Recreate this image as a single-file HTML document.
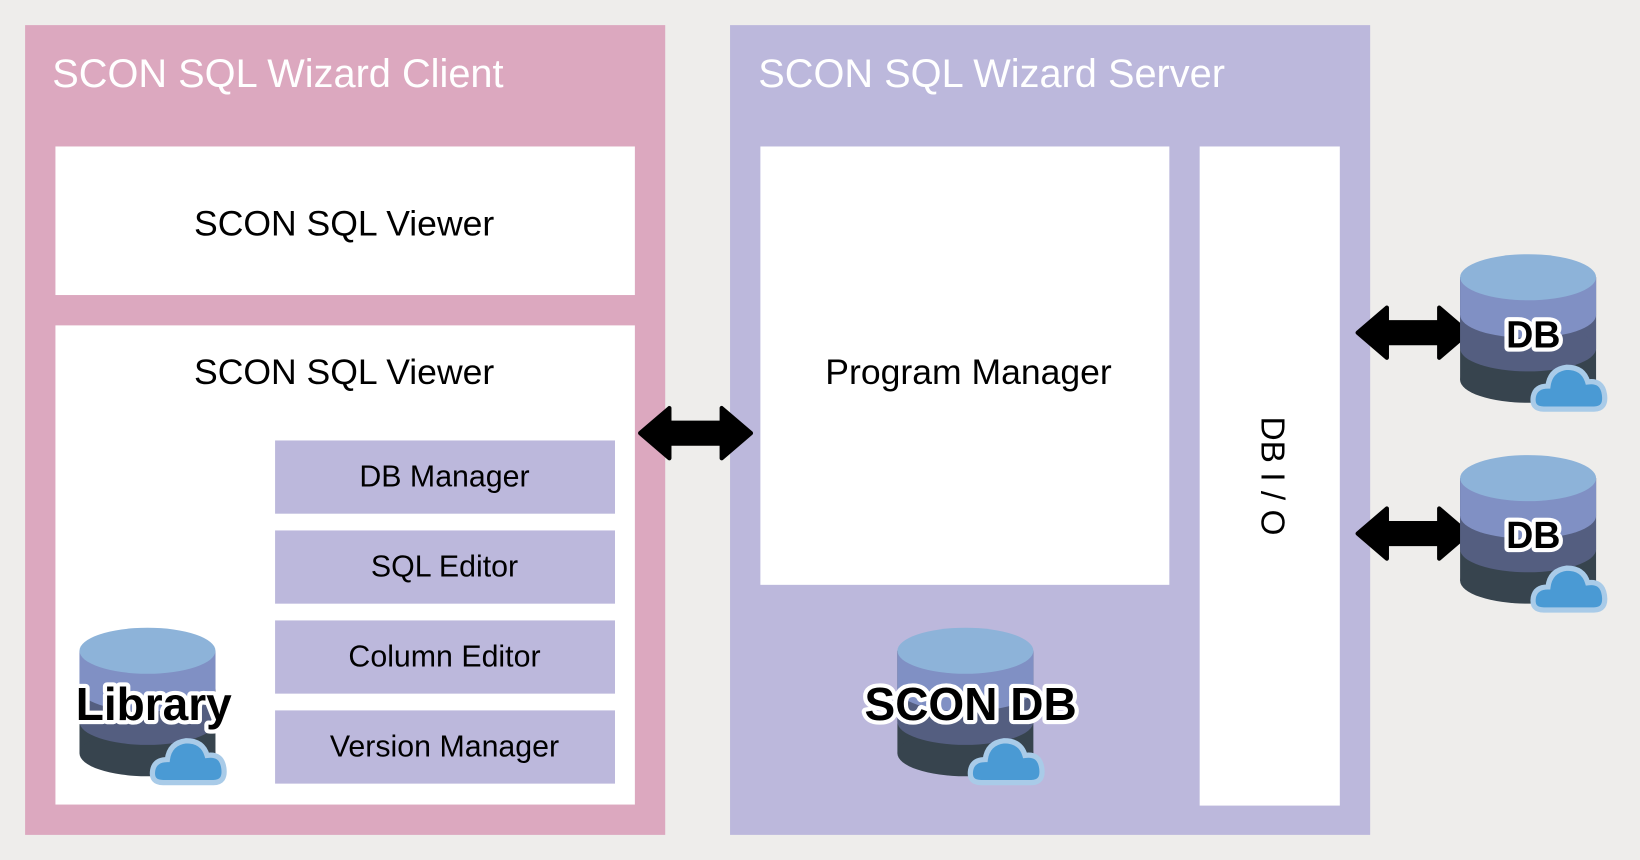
<!DOCTYPE html>
<html><head><style>html,body{margin:0;padding:0;background:#eeedeb}svg{display:block}</style></head>
<body>
<svg width="1640" height="860" viewBox="0 0 1568 822" preserveAspectRatio="none" xmlns="http://www.w3.org/2000/svg" font-family="Liberation Sans, DejaVu Sans, sans-serif">
<defs>
<g id="cyl">
<rect x="0" y="22" width="130" height="98" fill="#37444e"/><ellipse cx="65" cy="120" rx="65" ry="22" fill="#37444e"/>
<rect x="0" y="22" width="130" height="68" fill="#545e80"/><ellipse cx="65" cy="90" rx="65" ry="22" fill="#545e80"/>
<rect x="0" y="22" width="130" height="36" fill="#8090c4"/><ellipse cx="65" cy="58" rx="65" ry="22" fill="#8090c4"/>
<ellipse cx="65" cy="22" rx="65" ry="22" fill="#8db3d9"/>
<g transform="translate(72,98)">
<path d="M8 50 Q-4 50 -2 38 Q0 28 12 28 Q14 12 30 10 Q46 10 50 24 Q64 22 66 36 Q68 50 56 50 Z" fill="#4a9ad4" stroke="#a9cbe8" stroke-width="5"/>
</g>
</g>
<polygon id="arr" points="0,0 28,-24 28,-10 78,-10 78,-24 106,0 78,24 78,10 28,10 28,24" fill="#000" stroke="#000" stroke-width="4" stroke-linejoin="round"/>
</defs>
<rect width="1568" height="822" fill="#eeedeb"/>
<rect x="24" y="24" width="612" height="774" fill="#dca8bf"/>
<rect x="698" y="24" width="612" height="774" fill="#bcb8dc"/>
<text x="50" y="83" font-size="38" fill="#fff">SCON SQL Wizard Client</text>
<text x="725" y="83" font-size="38" fill="#fff">SCON SQL Wizard Server</text>
<rect x="53" y="140" width="554" height="142" fill="#fff"/>
<rect x="53" y="311" width="554" height="458" fill="#fff"/>
<text x="329" y="225" font-size="34" text-anchor="middle">SCON SQL Viewer</text>
<text x="329" y="367" font-size="34" text-anchor="middle">SCON SQL Viewer</text>
<g fill="#bcb8dc">
<rect x="263" y="421" width="325" height="70"/><rect x="263" y="507" width="325" height="70"/>
<rect x="263" y="593" width="325" height="70"/><rect x="263" y="679" width="325" height="70"/>
</g>
<g font-size="29" text-anchor="middle">
<text x="425" y="465">DB Manager</text><text x="425" y="551">SQL Editor</text>
<text x="425" y="637">Column Editor</text><text x="425" y="723">Version Manager</text>
</g>
<rect x="727" y="140" width="391" height="419" fill="#fff"/>
<rect x="1147" y="140" width="134" height="630" fill="#fff"/>
<text x="926" y="367" font-size="34" text-anchor="middle">Program Manager</text>
<text transform="translate(1206,455) rotate(90)" font-size="32" text-anchor="middle">DB I / O</text>
<use href="#arr" x="612" y="414"/>
<use href="#arr" x="1298" y="318"/>
<use href="#arr" x="1298" y="510"/>
<use href="#cyl" x="76" y="600"/>
<use href="#cyl" x="858" y="600"/>
<use href="#cyl" x="1396" y="243"/>
<use href="#cyl" x="1396" y="435"/>
<g font-weight="bold" stroke="#fff" stroke-width="8" paint-order="stroke" stroke-linejoin="round" fill="#000">
<text x="147" y="688" font-size="44" text-anchor="middle">Library</text>
<text x="928" y="688" font-size="44" text-anchor="middle">SCON DB</text>
<text x="1466" y="332" font-size="36" text-anchor="middle">DB</text>
<text x="1466" y="524" font-size="36" text-anchor="middle">DB</text>
</g>
</svg>
</body></html>
